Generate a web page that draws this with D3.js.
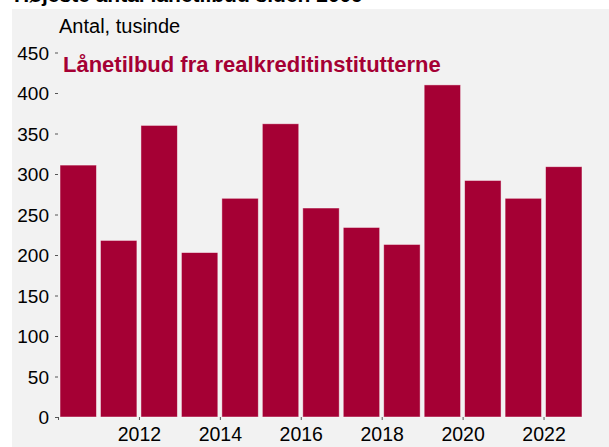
<!DOCTYPE html>
<html>
<head>
<meta charset="utf-8">
<script src="https://cdn.jsdelivr.net/npm/d3@7"></script>
<style>
  body { margin: 0; background: #fff; }
  text { font-family: "Liberation Sans", Arial, sans-serif; }
</style>
</head>
<body>
<div id="chart"></div>
<script>
// data (thousands of loan offers per year)
let years = [2010, 2011, 2012, 2013, 2014, 2015, 2016, 2017, 2018, 2019, 2020, 2021, 2022];
let offers = [311, 218, 360, 203, 270, 362, 258, 234, 213, 410, 292, 270, 309];
let yTicks = [0, 50, 100, 150, 200, 250, 300, 350, 400, 450];
let xTicks = [2010, 2012, 2014, 2016, 2018, 2020, 2022];

let width = 609;
let height = 447;
let red = "#a50034";

let svg = d3.select("#chart")
  .append("svg")
  .attr("width", width)
  .attr("height", height);

// grey panel
svg.append("rect")
  .attr("x", 12)
  .attr("y", 9)
  .attr("width", width - 12)
  .attr("height", height - 9)
  .attr("fill", "#f2f2f2");

// title cut off by the top edge, as in the original
svg.append("text")
  .attr("x", 14)
  .attr("y", 2)
  .attr("font-size", "21px")
  .attr("font-weight", "bold")
  .attr("fill", "#000")
  .text("Højeste antal lånetilbud siden 2009");

let x = d3.scaleLinear()
  .domain([2010, 2023])
  .range([58, 584]);

let y = d3.scaleLinear()
  .domain([0, 450])
  .range([417, 52.5]);

//bars, each spans one year
let step = x(2011) - x(2010);
svg.selectAll(".bar")
  .data(years)
  .enter()
  .append("rect")
  .attr("class", "bar")
  .attr("x", function(d) { return x(d + 0.5) - step * 0.45; })
  .attr("width", step * 0.9)
  .attr("y", function(d, i) { return y(offers[i]); })
  .attr("height", function(d, i) { return y(0) - y(offers[i]); })
  .attr("fill", red)
  .attr("stroke", "#fff")
  .attr("stroke-opacity", 0.55)
  .attr("stroke-width", 0.8);

// y axis
let yAxis = svg.append("g")
  .attr("transform", "translate(58,0)")
  .call(d3.axisLeft(y).tickValues(yTicks).tickSize(3).tickPadding(6));
yAxis.select(".domain").remove();
yAxis.selectAll("line").attr("stroke", "#555");
yAxis.selectAll("text")
  .attr("font-size", "19px")
  .attr("font-family", "Liberation Sans, Arial, sans-serif")
  .attr("fill", "#000")
  .attr("dy", "0.36em");

// x axis
let xAxis = svg.append("g")
  .attr("transform", "translate(0,417)")
  .call(d3.axisBottom(x).tickValues(xTicks).tickSize(3).tickFormat(function(d) { return d == 2010 ? "" : d; }));
xAxis.select(".domain").remove();
xAxis.selectAll("line").attr("stroke", "#555");
xAxis.selectAll("text")
  .attr("font-size", "19.5px")
  .attr("font-family", "Liberation Sans, Arial, sans-serif")
  .attr("fill", "#000")
  .attr("y", 24)
  .attr("dy", 0);

// labels
svg.append("text")
  .attr("x", 59)
  .attr("y", 33)
  .attr("font-size", "20px")
  .attr("fill", "#000")
  .text("Antal, tusinde");

svg.append("text")
  .attr("x", 63)
  .attr("y", 72)
  .attr("font-size", "22px")
  .attr("font-weight", "bold")
  .attr("fill", red)
  .text("Lånetilbud fra realkreditinstitutterne");
</script>
</body>
</html>
